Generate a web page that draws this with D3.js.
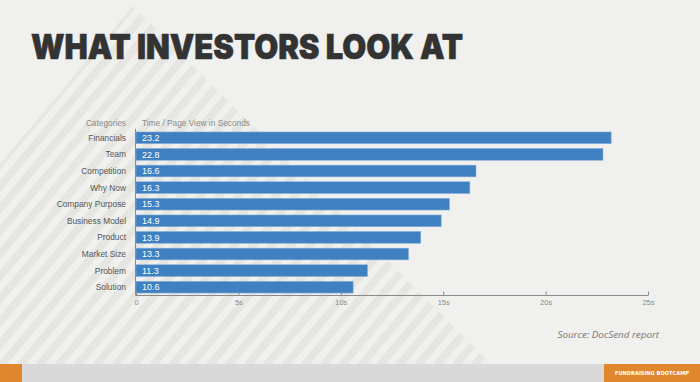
<!DOCTYPE html>
<html><head><meta charset="utf-8">
<script src="https://cdn.jsdelivr.net/npm/d3@7"></script>
<style>html,body{margin:0;padding:0;background:#f0f0ee;}svg{display:block;}</style>
</head><body>
<script>
const categories = ["Financials","Team","Competition","Why Now","Company Purpose","Business Model","Product","Market Size","Problem","Solution"];
const values = [23.2,22.8,16.6,16.3,15.3,14.9,13.9,13.3,11.3,10.6];
const tickValues = [0,5,10,15,20,25];
const tickLabels = ["0","5s","10s","15s","20s","25s"];

const W = 700, H = 382;
const svg = d3.select("body").append("svg").attr("width", W).attr("height", H);
svg.append("rect").attr("width", W).attr("height", H).attr("fill", "#f0f0ee");

// stripes
const defs = svg.append("defs");
const pat = defs.append("pattern").attr("id","stripes").attr("patternUnits","userSpaceOnUse")
  .attr("width",14.5).attr("height",14.5).attr("patternTransform","rotate(40)");
pat.append("rect").attr("x",0).attr("y",0).attr("width",7.5).attr("height",14.5).attr("fill","#e5e5e1");
svg.append("polygon").attr("points","133,6 492,365 0,365 0,164").attr("fill","url(#stripes)");

// title
svg.append("text").attr("x",31).attr("y",59).text("WHAT INVESTORS LOOK AT")
  .attr("font-family","Inter, 'DejaVu Sans', sans-serif").attr("font-weight",900)
  .attr("font-size",34).attr("fill","#333333").attr("stroke","#333333").attr("stroke-width",0.6)
  .attr("textLength",432).attr("lengthAdjust","spacingAndGlyphs");

// chart
const x = d3.scaleLinear().domain([0,25]).range([136,648]);
const y = d3.scaleBand().domain(categories).range([129.5,295.5]).paddingInner(0.3).paddingOuter(0.15);

svg.append("text").attr("x",126).attr("y",126).attr("text-anchor","end").text("Categories")
  .attr("font-family","Liberation Sans, Arial, sans-serif").attr("font-size",8.3).attr("fill","#8a8a8a");
svg.append("text").attr("x",142).attr("y",126).text("Time / Page View in Seconds")
  .attr("font-family","Liberation Sans, Arial, sans-serif").attr("font-size",8.3).attr("fill","#8a8a8a");

const g = svg.append("g");
g.selectAll("rect.bar").data(values).join("rect").attr("class","bar")
  .attr("x", x(0)).attr("y",(d,i)=>y(categories[i]))
  .attr("width", d=>x(d)-x(0)).attr("height", y.bandwidth())
  .attr("fill","#3e80c1").attr("stroke","#7fa8d6").attr("stroke-width",0.6);

g.selectAll("text.val").data(values).join("text").attr("class","val")
  .attr("x", x(0)+6).attr("y",(d,i)=>y(categories[i])+y.bandwidth()/2)
  .attr("dy","0.35em").text(d=>d.toFixed(1))
  .attr("font-family","Liberation Sans, Arial, sans-serif").attr("font-size",9).attr("fill","#ffffff");

g.selectAll("text.cat").data(categories).join("text").attr("class","cat")
  .attr("x",126).attr("y",d=>y(d)+y.bandwidth()/2).attr("dy","0.35em")
  .attr("text-anchor","end").text(d=>d)
  .attr("font-family","Liberation Sans, Arial, sans-serif").attr("font-size",8.4).attr("fill","#555555");

// axes
const axisY = 295.5;
const xAxis = d3.axisBottom(x).tickValues(tickValues).tickFormat((d,i)=>tickLabels[i]).tickSize(-4).tickPadding(4);
const ax = svg.append("g").attr("transform",`translate(0,${axisY})`).call(xAxis);
ax.select(".domain").attr("stroke","#8a8a8a").attr("d",`M${x(0)},0H${x(25)}`);
ax.selectAll(".tick line").attr("stroke","#8a8a8a");
ax.selectAll(".tick text").attr("font-family","Liberation Sans, Arial, sans-serif").attr("font-size",7.5).attr("fill","#8a8a8a");
svg.append("line").attr("x1",x(0)-0.5).attr("x2",x(0)-0.5).attr("y1",129).attr("y2",axisY).attr("stroke","#8a8a8a");

// source
svg.append("text").attr("x",659).attr("y",338).attr("text-anchor","end").text("Source: DocSend report")
  .attr("font-family","'Open Sans', 'Liberation Sans', sans-serif").attr("font-style","italic")
  .attr("font-size",9.8).attr("fill","#777777");

// footer
svg.append("rect").attr("x",0).attr("y",364).attr("width",W).attr("height",18).attr("fill","#d9d9d9");
svg.append("rect").attr("x",0).attr("y",364).attr("width",22).attr("height",18).attr("fill","#e0862d");
svg.append("rect").attr("x",604).attr("y",364).attr("width",96).attr("height",18).attr("fill","#e0862d");
svg.append("text").attr("x",652).attr("y",373).attr("dy","0.35em").attr("text-anchor","middle")
  .text("FUNDRAISING BOOTCAMP").attr("font-family","'DejaVu Sans Condensed','DejaVu Sans',sans-serif")
  .attr("font-weight","bold").attr("font-size",5.5).attr("fill","#ffffff")
  .attr("textLength",74).attr("lengthAdjust","spacingAndGlyphs");
</script>
</body></html>
